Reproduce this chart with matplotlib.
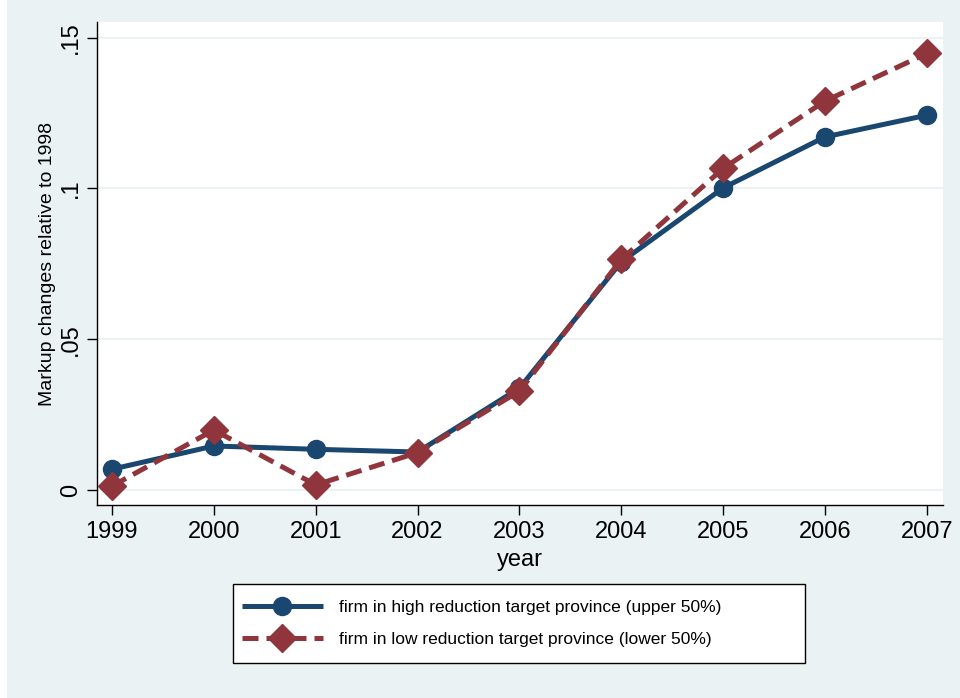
import matplotlib
matplotlib.use("Agg")
import matplotlib.pyplot as plt
from matplotlib.patches import Rectangle

plt.rcParams['font.family'] = ['Liberation Sans', 'DejaVu Sans']

years = [1999, 2000, 2001, 2002, 2003, 2004, 2005, 2006, 2007]
high_target = [0.0069, 0.0146, 0.0135, 0.0126, 0.0338, 0.0757, 0.1002, 0.1171, 0.1243]
low_target = [0.0013, 0.0199, 0.0017, 0.0124, 0.0328, 0.0765, 0.1067, 0.1290, 0.1448]
ytick_vals = [0, 0.05, 0.10, 0.15]
ytick_labels = ['0', '.05', '.1', '.15']
label_high = 'firm in high reduction target province (upper 50%)'
label_low = 'firm in low reduction target province (lower 50%)'

navy = '#1a476f'
maroon = '#90353b'
bg = '#eaf2f3'

W, H = 960, 698
fig = plt.figure(figsize=(W / 100, H / 100), dpi=100, facecolor=bg)
fig.patches.append(Rectangle((0, 0), 7 / W, 1, transform=fig.transFigure,
                             facecolor='white', edgecolor='none', zorder=0))

ax = fig.add_axes([97 / W, 1 - 505 / H, 846 / W, 483 / H])
ax.set_facecolor('white')

ax.plot(years, high_target, color=navy, lw=3.6, marker='o', markersize=13,
        label=label_high, zorder=3, solid_capstyle='butt')
ax.plot(years, low_target, color=maroon, lw=3.6, marker='D', markersize=14,
        dashes=(3.2, 1.6), label=label_low, zorder=4, dash_capstyle='butt')

ax.set_xlim(1998.853, 2007.157)
ax.set_ylim(-0.00497, 0.1552)

ax.set_xticks(years)
ax.set_xticklabels([str(y) for y in years], fontsize=17)
ax.set_yticks(ytick_vals)
ax.set_yticklabels(ytick_labels, fontsize=17, rotation=90, va='center')

ax.grid(axis='y', color=bg, lw=1.5, zorder=0)
ax.grid(axis='x', visible=False)
ax.set_axisbelow(True)

for s in ['top', 'right']:
    ax.spines[s].set_visible(False)
for s in ['left', 'bottom']:
    ax.spines[s].set_color('black')
    ax.spines[s].set_linewidth(1.0)

ax.tick_params(axis='both', direction='out', length=7, width=1.0, color='black')
ax.tick_params(axis='x', pad=4.5)
ax.tick_params(axis='y', pad=4)

ax.set_xlabel('year', fontsize=17, labelpad=4)
ax.set_ylabel('Markup changes relative to 1998', fontsize=14, labelpad=3)

# legend frame (fixed width box below the plot)
fig.patches.append(Rectangle((233 / W, 1 - 663 / H), 572 / W, 79 / H,
                             transform=fig.transFigure, facecolor='white',
                             edgecolor='black', linewidth=1.0, zorder=1))
leg = fig.legend(loc='center left', bbox_to_anchor=(233 / W, 1 - 623.5 / H),
                 fontsize=12.5, frameon=False, handlelength=4.7,
                 borderpad=0.5, labelspacing=0.95, handletextpad=0.9,
                 borderaxespad=0)

fig.savefig('out.png', dpi=100, facecolor=bg)
